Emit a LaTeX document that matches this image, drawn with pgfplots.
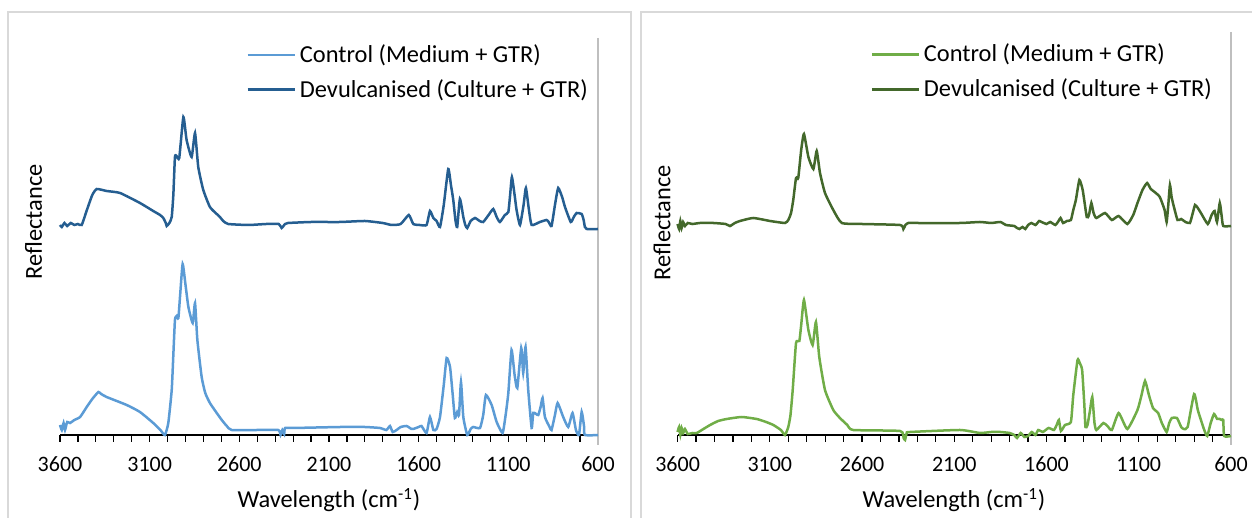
\documentclass[border=0pt]{standalone}
\usepackage{pgfplots}
\pgfplotsset{compat=1.18}
\usepackage{pgfplotstable}
\usepackage{fontspec}
\setmainfont{Carlito}
\definecolor{lblue}{HTML}{5B9BD5}
\definecolor{dblue}{HTML}{255E91}
\definecolor{lgreen}{HTML}{70AD47}
\definecolor{dgreen}{HTML}{43682B}
\definecolor{panel}{HTML}{D9D9D9}
\definecolor{rline}{HTML}{BFBFBF}

\pgfplotstableread{
x y
3600 210
3590 208
3575 212
3560 209
3540 212
3520 210
3500 211
3479 210
3450 225
3420 240
3395 246
3340 244
3265 242
3154 232
3080 224
3042 220
3024 217
3010 212
3005 209
2990 212
2977 218
2968 240
2959 278
2950 279
2935 277
2912 318
2894 295
2866 278
2847 302
2829 268
2801 245
2764 228
2726 221
2708 218
2690 214
2662 211
2550 210
2450 211
2380 211
2364 207
2345 211
2329 212
2200 213
2039 213
1900 214
1800 212
1751 210
1700 211
1655 220
1630 211
1594 210
1556 210
1537 224
1518 217
1500 214
1481 208
1460 230
1435 266
1420 250
1407 235
1395 215
1385 208
1370 236
1351 218
1340 210
1329 207
1310 214
1286 217
1260 214
1240 213
1210 220
1184 226
1165 218
1147 213
1119 220
1100 223
1090 240
1080 258
1065 240
1054 225
1035 210
1015 230
1002 247
985 225
970 210
924 213
887 215
875 213
859 209
840 230
822 247
800 238
784 228
752 213
735 218
719 222
691 221
680 215
673 208
663 206
600 206
}\leftdev

\pgfplotstableread{
x y
3600 10
3590 5
3580 12
3572 5
3560 13
3544 12
3520 15
3488 18
3451 28
3420 36
3386 43
3370 41
3340 38
3228 30
3154 23
3080 12
3040 5
3015 0
2996 12
2977 45
2968 80
2959 115
2950 119
2940 117
2930 140
2916 171
2900 150
2884 128
2860 112
2847 132
2834 95
2810 58
2790 42
2764 32
2726 22
2698 15
2670 9
2643 5
2500 5
2383 5
2370 0
2360 5
2350 1
2345 7
2299 7
2037 8
1900 8
1816 7
1780 5
1760 9
1745 3
1723 5
1700 8
1667 9
1640 6
1630 6
1600 8
1584 9
1556 2
1537 18
1518 5
1500 6
1481 18
1460 50
1444 77
1425 68
1410 40
1398 17
1385 23
1375 20
1364 53
1351 18
1329 0
1310 6
1296 8
1258 7
1240 20
1225 40
1193 30
1165 13
1132 2
1115 20
1100 42
1082 85
1065 60
1050 47
1028 87
1017 62
1004 88
989 45
970 7
961 22
945 21
933 20
920 28
909 37
896 18
870 8
859 5
840 20
825 32
794 18
766 8
742 22
723 5
706 0
691 23
678 9
673 0
600 0
}\leftctl

\pgfplotstableread{
x y
3600 211
3592 206
3585 214
3578 207
3570 213
3560 209
3545 212
3520 211
3479 212
3406 212
3340 211
3316 209
3290 212
3262 214
3190 217
3099 214
3018 212
3000 215
2985 222
2973 235
2958 257
2946 257
2930 285
2915 301
2891 278
2864 266
2846 284
2828 262
2801 242
2756 225
2710 212
2600 211
2394 210
2376 206
2365 210
2350 212
2322 212
2069 212
1961 213
1900 212
1850 213
1820 210
1775 209
1760 207
1747 206
1730 208
1715 206
1700 210
1682 212
1660 210
1640 214
1627 213
1600 211
1580 213
1552 210
1535 214
1524 217
1510 212
1490 214
1468 215
1455 225
1441 235
1422 255
1404 245
1382 218
1370 220
1357 232
1345 222
1330 217
1283 222
1246 215
1209 219
1162 211
1130 220
1107 232
1080 245
1055 252
1035 246
1014 243
986 238
960 225
949 213
940 230
931 250
922 238
912 230
890 215
870 216
847 213
823 212
810 220
795 230
780 227
763 222
726 211
705 220
689 224
676 213
661 232
650 218
642 209
600 209
}\rightdev

\pgfplotstableread{
x y
3600 3
3592 8
3585 0
3578 7
3570 2
3560 6
3545 1
3520 2
3496 2
3460 6
3424 10
3380 14
3334 16
3253 18
3171 16
3120 13
3081 10
3040 5
3018 0
3000 8
2988 20
2976 45
2958 92
2940 94
2930 110
2915 135
2891 105
2868 90
2850 113
2832 78
2801 45
2756 25
2720 17
2680 10
2648 5
2394 4
2375 -3
2367 -5
2358 2
2340 3
2069 5
1961 2
1900 3
1850 3
1800 2
1775 0
1760 -3
1740 2
1720 -2
1700 -1
1680 3
1660 0
1645 5
1620 3
1589 7
1560 5
1545 10
1533 15
1522 4
1500 10
1468 13
1455 40
1432 75
1420 72
1407 65
1395 30
1389 8
1378 10
1364 25
1352 38
1340 12
1330 5
1292 12
1270 9
1246 5
1209 22
1162 6
1107 25
1085 40
1066 54
1045 40
1023 27
995 22
975 12
949 3
935 12
921 17
893 17
870 8
856 6
835 8
800 41
780 25
763 15
745 5
729 -1
710 12
692 21
675 16
661 16
650 15
642 15
637 -1
600 -1
}\rightctl

\pgfplotsset{
  spec/.style={
    scale only axis, clip=false, x dir=reverse,
    xmin=600, xmax=3600, ymin=0,
    axis x line*=bottom, axis y line=none,
    xtick={600,1100,...,3600}, minor x tick num=4,
    tick align=outside, major tick length=3.5pt, minor tick length=3.5pt,
    tick style={black, line width=0.6pt},
    x axis line style={black, line width=0.6pt, -},
    xticklabel style={font=\fontsize{11}{13}\selectfont, yshift=-4pt},
    /pgf/number format/assume math mode=true,
    /pgf/number format/1000 sep={},
    legend cell align=left,
    legend style={draw=none, fill=none, font=\fontsize{12.2}{14}\selectfont,
      row sep=3pt, inner sep=0pt, anchor=north west},
    legend image code/.code={\draw[##1, line width=1.2pt] (0pt,0pt) -- (23.5pt,0pt);},
    every axis plot/.append style={line width=1.25pt, no markers, smooth, tension=0.3},
  }
}

\begin{document}
\begin{tikzpicture}
\useasboundingbox (0,0) rectangle (626pt,259pt);
\draw[panel, line width=1.2pt] (4pt,-5pt) -- (4pt,253pt) -- (315.5pt,253pt) -- (315.5pt,-5pt);
\draw[panel, line width=1.2pt] (320.5pt,-5pt) -- (320.5pt,253pt) -- (640pt,253pt);

\begin{axis}[spec, at={(30pt,41.5pt)}, anchor=south west,
  width=269pt, height=198.5pt, ymax=397,
  legend style={at={(0.346,0.995)}}]
\draw[rline, line width=0.8pt] (axis cs:600,397) -- (axis cs:600,-10);
\addplot[lblue] table[x=x,y=y] {\leftctl};
\addplot[dblue] table[x=x,y=y] {\leftdev};
\legend{Control (Medium + GTR), Devulcanised (Culture + GTR)}
\end{axis}

\begin{axis}[spec, at={(338.8pt,41.5pt)}, anchor=south west,
  width=276.7pt, height=201.5pt, ymax=403,
  legend style={at={(0.348,0.981)}}]
\draw[rline, line width=0.8pt] (axis cs:600,403) -- (axis cs:600,-10);
\addplot[lgreen] table[x=x,y=y] {\rightctl};
\addplot[dgreen] table[x=x,y=y] {\rightdev};
\legend{Control (Medium + GTR), Devulcanised (Culture + GTR)}
\end{axis}

\node[rotate=90, font=\fontsize{12.2}{14}\selectfont] at (16.75pt,148pt) {Reflectance};
\node[rotate=90, font=\fontsize{12.2}{14}\selectfont] at (331pt,147.5pt) {Reflectance};
\node[font=\fontsize{12.2}{14}\selectfont] at (164.5pt,9pt) {Wavelength (cm\textsuperscript{-1})};
\node[font=\fontsize{12.2}{14}\selectfont] at (477pt,9pt) {Wavelength (cm\textsuperscript{-1})};
\end{tikzpicture}
\end{document}
